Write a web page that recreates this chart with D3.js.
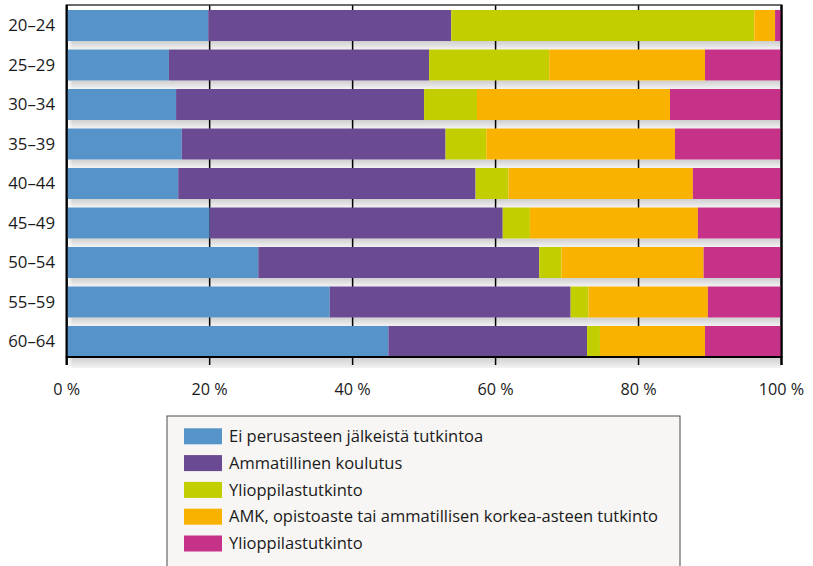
<!DOCTYPE html>
<html>
<head>
<meta charset="utf-8">
<script src="https://cdn.jsdelivr.net/npm/d3@7"></script>
<style>
  html, body { margin: 0; padding: 0; background: #ffffff; }
  svg { display: block; }
  text { font-family: "Open Sans", "Noto Sans", sans-serif; fill: #1a1a1a; }
</style>
</head>
<body>
<svg id="chart" width="813" height="566"></svg>
<script>
// ---- data ----
const categories = ["20–24", "25–29", "30–34", "35–39", "40–44", "45–49", "50–54", "55–59", "60–64"];
const seriesNames = [
  "Ei perusasteen jälkeistä tutkintoa",
  "Ammatillinen koulutus",
  "Ylioppilastutkinto",
  "AMK, opistoaste tai ammatillisen korkea-asteen tutkinto",
  "Ylioppilastutkinto"
];
const eiPerusasteen = [19.8, 14.3, 15.3, 16.1, 15.6, 20.0, 26.8, 36.8, 45.0];
const ammatillinen  = [34.0, 36.4, 34.7, 36.9, 41.6, 41.0, 39.3, 33.7, 27.8];
const ylioppilas    = [42.4, 16.8, 7.4, 5.7, 4.6, 3.8, 3.1, 2.5, 1.8];
const amk           = [2.9, 21.8, 27.0, 26.4, 25.8, 23.5, 19.9, 16.7, 14.7];
const korkea        = [0.9, 10.7, 15.6, 14.8, 12.5, 11.7, 11.0, 10.3, 10.7];
const seriesColors  = ["#5593c8", "#6a4a93", "#c2ce00", "#f9b200", "#c63288"];
const xTicks = [0, 20, 40, 60, 80, 100];
const xTickLabels = ["0 %", "20 %", "40 %", "60 %", "80 %", "100 %"];

// ---- build table ----
const seriesValues = [eiPerusasteen, ammatillinen, ylioppilas, amk, korkea];
const keys = seriesValues.map((_, i) => "s" + i);
const table = categories.map((c, j) => {
  const row = { cat: c };
  keys.forEach((k, i) => row[k] = seriesValues[i][j]);
  return row;
});
const stacked = d3.stack().keys(keys)(table);

// ---- layout ----
const svg = d3.select("#chart");
const plotLeft = 66.7, plotRight = 781.5, plotTop = 5, barTop = 10, axisY = 357;

const x = d3.scaleLinear().domain([0, 100]).range([plotLeft, plotRight]);
const y = d3.scaleBand().domain(categories).range([barTop, axisY]).paddingInner(0.215).paddingOuter(0);

const defs = svg.append("defs");
const grad = defs.append("linearGradient").attr("id", "shadow").attr("x1", 0).attr("y1", 0).attr("x2", 0).attr("y2", 1);
grad.append("stop").attr("offset", "0%").attr("stop-color", "#cfcfcf");
grad.append("stop").attr("offset", "55%").attr("stop-color", "#e2e2e2");
grad.append("stop").attr("offset", "100%").attr("stop-color", "#f3f3f3");
const hgrad = defs.append("linearGradient").attr("id", "shadowL").attr("x1", 0).attr("y1", 0).attr("x2", 1).attr("y2", 0);
hgrad.append("stop").attr("offset", "0%").attr("stop-color", "#fff").attr("stop-opacity", 1);
hgrad.append("stop").attr("offset", "100%").attr("stop-color", "#fff").attr("stop-opacity", 0);

// shadows under bars
const gap = y.step() - y.bandwidth();
svg.append("g").selectAll("rect").data(categories).join("rect")
  .attr("x", plotLeft + 1)
  .attr("y", d => y(d) + y.bandwidth())
  .attr("width", plotRight - plotLeft - 1)
  .attr("height", (d, i) => i === categories.length - 1 ? 11 : gap)
  .attr("fill", "url(#shadow)");
svg.append("g").selectAll("rect").data(categories).join("rect")
  .attr("x", plotLeft + 1)
  .attr("y", d => y(d) + y.bandwidth())
  .attr("width", 5)
  .attr("height", (d, i) => i === categories.length - 1 ? 11 : gap)
  .attr("fill", "url(#shadowL)");

// grid lines / ticks
svg.append("g").selectAll("line").data(xTicks).join("line")
  .attr("x1", d => x(d)).attr("x2", d => x(d))
  .attr("y1", plotTop)
  .attr("y2", axisY + 8)
  .attr("stroke", "#000")
  .attr("stroke-width", d => (d === 0 || d === 100) ? 2 : 1.5);

// top border
svg.append("line")
  .attr("x1", plotLeft - 1).attr("x2", plotRight + 1)
  .attr("y1", plotTop).attr("y2", plotTop)
  .attr("stroke", "#3a3a3a").attr("stroke-width", 1.6);

// bars
svg.append("g").selectAll("g").data(stacked).join("g")
  .attr("fill", (d, i) => seriesColors[i])
  .selectAll("rect").data(d => d).join("rect")
  .attr("x", d => x(d[0]))
  .attr("y", d => y(d.data.cat))
  .attr("width", d => x(d[1]) - x(d[0]))
  .attr("height", y.bandwidth());

// axes lines
svg.append("line").attr("x1", plotLeft).attr("x2", plotLeft).attr("y1", plotTop).attr("y2", axisY + 8)
  .attr("stroke", "#000").attr("stroke-width", 2);
svg.append("line").attr("x1", plotRight).attr("x2", plotRight).attr("y1", plotTop).attr("y2", axisY + 8)
  .attr("stroke", "#000").attr("stroke-width", 2);
svg.append("line").attr("x1", plotLeft - 1).attr("x2", plotRight + 1).attr("y1", axisY).attr("y2", axisY)
  .attr("stroke", "#000").attr("stroke-width", 2);

// y labels
svg.append("g").selectAll("text").data(categories).join("text")
  .attr("x", 55)
  .attr("y", d => y(d) + y.bandwidth() / 2)
  .attr("dy", "0.35em")
  .attr("text-anchor", "end")
  .attr("font-size", 16.8)
  .text(d => d);

// x labels
svg.append("g").selectAll("text").data(xTicks).join("text")
  .attr("x", d => x(d))
  .attr("y", 389)
  .attr("dy", "0.35em")
  .attr("text-anchor", "middle")
  .attr("font-size", 16.2)
  .text((d, i) => xTickLabels[i]);

// legend
const lg = svg.append("g");
lg.append("rect").attr("x", 167).attr("y", 416).attr("width", 513).attr("height", 170)
  .attr("fill", "#f7f6f4").attr("stroke", "#4a4a4a").attr("stroke-width", 1);
const legendRows = lg.selectAll("g.item").data(seriesNames).join("g").attr("class", "item")
  .attr("transform", (d, i) => `translate(184, ${436.3 + i * 26.8})`);
legendRows.append("rect").attr("x", 0).attr("y", -8).attr("width", 38).attr("height", 16)
  .attr("fill", (d, i) => seriesColors[i]);
legendRows.append("text").attr("x", 45).attr("y", 0).attr("dy", "0.35em")
  .attr("font-size", 16.5).text(d => d);
</script>
</body>
</html>
